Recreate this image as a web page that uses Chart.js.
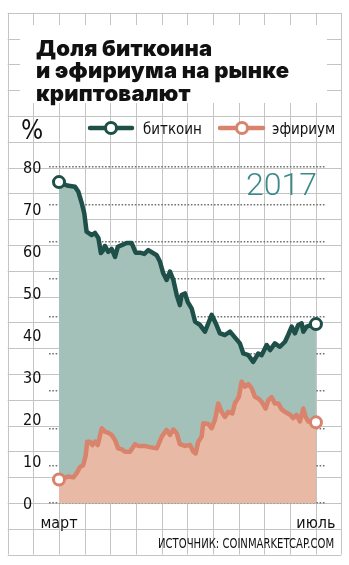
<!DOCTYPE html>
<html lang="ru">
<head>
<meta charset="utf-8">
<script src="https://cdn.jsdelivr.net/npm/chart.js@4.4.1/dist/chart.umd.min.js"></script>
<style>
  html, body { margin: 0; padding: 0; background: #fff; }
  #wrap { position: relative; width: 349px; height: 565px; overflow: hidden; }
  #wrap canvas { position: absolute; left: 0; top: 0; }
  .narrow { font-family: 'Liberation Sans Narrow', 'DejaVu Sans Condensed', sans-serif; }
  .title-box { position: absolute; left: 20px; top: 25px; width: 307px; height: 78px; background: #fff; }
  .title { position: absolute; left: 16px; top: 11.5px; margin: 0; white-space: nowrap; letter-spacing: 0.2px;
           font: 900 22px/22.5px Inter, 'DejaVu Sans', sans-serif; color: #111; }
  .unit { position: absolute; left: 21px; top: 117px; font-size: 26px; line-height: 26px; color: #111; }
  .legend { position: absolute; top: 120px; font-size: 15px; line-height: 18px; color: #111; }
  .year { position: absolute; left: 246px; top: 168px; font: 300 32px/32px Roboto, sans-serif; color: #3d8a8a; }
  .source { position: absolute; left: 158px; top: 536px; font-size: 14px; line-height: 14px; color: #111;
            white-space: nowrap; transform: scaleX(0.8); transform-origin: 0 0; }
</style>
</head>
<body>
<div id="wrap">
  <canvas id="chart" width="349" height="565"></canvas>
  <div class="title-box"><h1 class="title">Доля биткоина<br>и эфириума на рынке<br>криптовалют</h1></div>
  <div class="unit narrow">%</div>
  <div class="legend narrow" style="left:143px">биткоин</div>
  <div class="legend narrow" style="left:272px">эфириум</div>
  <div class="year">2017</div>
  <div class="source narrow">ИСТОЧНИК: COINMARKETCAP.COM</div>
</div>
<script>
// Market share, %, by day counted from 1 March 2017
const btcDays = [0, 3.8, 7.6, 9.2, 10.8, 12.0, 13.1, 15.5, 17.1, 18.7, 19.9, 21.0, 21.8, 23.4, 25.0, 26.6,
  27.9, 29.8, 32.1, 34.5, 36.4, 38.5, 40.5, 42.4, 46.4, 47.9, 49.5, 51.1, 52.7, 54.3, 55.9, 57.4,
  58.2, 59.8, 61.1, 63.0, 64.6, 66.9, 69.3, 70.9, 72.5, 74.4, 76.4, 78.8, 81.2, 83.2, 85.9, 87.5,
  89.9, 92.2, 94.6, 96.2, 98.6, 100.2, 102.5, 104.9, 107.3, 108.8, 110.5, 112.0, 113.6, 115.2,
  116.0, 117.6, 120.0, 122];
const btcShare = [76.4, 75.6, 75.3, 74.1, 71.4, 69, 64.6, 63.8, 64.3, 63.1, 59.5, 60.2, 61.2, 59.8, 60.5, 58.6,
  61, 61.4, 61.9, 61.9, 59.6, 59.6, 59.3, 60.2, 59, 57.5, 54.7, 53.1, 55.1, 53.1, 49.5, 47.1,
  49.5, 49.9, 47.9, 46.3, 43.2, 42.4, 40.8, 42.8, 44.8, 42.8, 40.4, 40, 40.8, 39.6, 38, 35.6,
  35.2, 33.6, 35.6, 35.2, 37.6, 36.4, 38, 37.2, 38.4, 40, 42, 40.4, 42.4, 42.8,
  40.8, 42, 42.4, 42.6];

const ethDays = [0, 4.4, 6.8, 8.4, 10.0, 11.5, 12.7, 13.4, 14.7, 15.8, 17.1, 18.4, 20.3, 21.8, 23.4,
  25.0, 26.6, 28.1, 29.8, 31.3, 33.7, 36.1, 37.6, 40.5, 43.2, 46.4, 48.8, 51.1, 52.7, 54.3,
  55.9, 57.4, 59.8, 62.2, 63.8, 64.9, 66.1, 67.7, 68.5, 70.9, 72.5, 74.1, 75.6, 77.2, 78.8,
  80.4, 82.3, 83.5, 85.4, 86.7, 88.3, 89.9, 91.5, 93.0, 94.6, 96.2, 98.1, 99.4, 101.0, 102.5,
  104.1, 105.7, 107.3, 109.7, 111.2, 112.8, 114.4, 116.0, 117.1, 118.4, 122];
const ethShare = [5.6, 6.3, 6.1, 7.1, 8.6, 9, 11.4, 14.6, 14.6, 13.8, 14.6, 13.8, 17.8, 17, 16.7,
  16.2, 15, 13, 12.8, 12.2, 12.2, 14, 13.6, 13.6, 13.3, 13, 15.8, 17.4, 16.2, 17.5,
  16.6, 14, 13.6, 13.8, 12.2, 11.8, 14.6, 15.8, 19, 18.8, 17.8, 19.9, 23.7, 21.7, 20.5,
  21.7, 21.3, 23.7, 25.3, 28.9, 27.7, 28.3, 27.3, 25.3, 24.9, 24.1, 22.5, 24.5, 25.2, 23.7,
  23.7, 22.3, 21.7, 21, 20.2, 21, 19.4, 22.5, 20.5, 19.4, 19.2];

const monthLabels = ['март', 'июль'];
const seriesNames = ['биткоин', 'эфириум'];

const BTC_LINE = '#1f4f49', BTC_FILL = '#a3c1b9';
const ETH_LINE = '#d9826c', ETH_FILL = '#e8b9a5';

const toPoints = (xs, ys) => xs.map((x, i) => ({ x, y: ys[i] }));
const endsOnly = (r) => (ctx) => (ctx.dataIndex === 0 || ctx.dataIndex === ctx.dataset.data.length - 1) ? r : 0;

// graph-paper background, aligned to the start day and the zero line
const paper = {
  id: 'paper',
  beforeDraw(chart) {
    const { ctx } = chart;
    const ox = chart.scales.x.getPixelForValue(0);
    const oy = chart.scales.y.getPixelForValue(0);
    const sx = 25.65, sy = 25.8;
    const left = ox - 2 * sx, right = ox + 11 * sx, top = oy - 19 * sy, bottom = oy + 2 * sy;
    ctx.save();
    ctx.strokeStyle = '#c4c4c4';
    ctx.lineWidth = 1;
    ctx.beginPath();
    for (let k = -2; k <= 11; k++) {
      const x = Math.round(ox + k * sx) + 0.5;
      ctx.moveTo(x, top); ctx.lineTo(x, bottom);
    }
    for (let j = -2; j <= 19; j++) {
      const y = Math.round(oy - j * sy) + 0.5;
      ctx.moveTo(left, y); ctx.lineTo(right, y);
    }
    ctx.stroke();
    ctx.restore();
  },
  afterDraw(chart) {
    // legend swatches: thick line with a hollow circle
    const { ctx } = chart;
    const items = [
      { x1: 90, x2: 132, cx: 111, line: BTC_LINE },
      { x1: 220, x2: 263, cx: 242, line: ETH_LINE }
    ];
    ctx.save();
    items.forEach(it => {
      ctx.strokeStyle = it.line;
      ctx.lineWidth = 4.5;
      ctx.lineCap = 'round';
      ctx.beginPath(); ctx.moveTo(it.x1, 128); ctx.lineTo(it.x2, 128); ctx.stroke();
      ctx.fillStyle = '#fff';
      ctx.lineWidth = 3;
      ctx.beginPath(); ctx.arc(it.cx, 128, 5.5, 0, Math.PI * 2); ctx.fill(); ctx.stroke();
    });
    ctx.restore();
  }
};

Chart.defaults.font.family = "'Liberation Sans Narrow', 'DejaVu Sans Condensed', sans-serif";
Chart.defaults.color = '#111';

new Chart(document.getElementById('chart'), {
  type: 'line',
  data: {
    datasets: [
      {
        label: seriesNames[0],
        data: toPoints(btcDays, btcShare),
        order: 1,
        borderColor: BTC_LINE, backgroundColor: BTC_FILL, fill: 'origin',
        borderWidth: 4.5, tension: 0, borderCapStyle: 'round', borderJoinStyle: 'round',
        pointRadius: endsOnly(5.5), pointBorderWidth: 3,
        pointBackgroundColor: '#fff', pointBorderColor: BTC_LINE
      },
      {
        label: seriesNames[1],
        data: toPoints(ethDays, ethShare),
        order: 0,
        borderColor: ETH_LINE, backgroundColor: ETH_FILL, fill: 'origin',
        borderWidth: 4.5, tension: 0, borderCapStyle: 'round', borderJoinStyle: 'round',
        pointRadius: endsOnly(5.5), pointBorderWidth: 3,
        pointBackgroundColor: '#fff', pointBorderColor: ETH_LINE
      }
    ]
  },
  options: {
    responsive: false,
    animation: false,
    clip: false,
    layout: { padding: { left: 23, right: 24, top: 167, bottom: 30 } },
    plugins: { legend: { display: false }, tooltip: { enabled: false } },
    scales: {
      x: {
        type: 'linear', min: -4.75, max: 126.3,
        grid: { display: false }, border: { display: false },
        afterBuildTicks: (s) => { s.ticks = [{ value: btcDays[0] }, { value: btcDays[btcDays.length - 1] }]; },
        afterFit: (s) => { s.height = 32; },
        ticks: {
          autoSkip: false, maxRotation: 0, padding: 3,
          font: { size: 16 },
          callback: (v, i) => monthLabels[i]
        }
      },
      y: {
        position: 'left', min: 0, max: 80,
        grid: { display: false }, border: { display: false },
        afterFit: (s) => { s.width = 26; },
        ticks: { stepSize: 10, crossAlign: 'far', padding: 0, labelOffset: 1.5, font: { size: 16 } }
      },
      dots: {
        position: 'right', min: 0, max: 80,
        border: { display: false, dash: [1.6, 1.7] },
        afterBuildTicks: (s) => { s.ticks = Array.from({ length: 10 }, (_, i) => ({ value: i * 80 / 9 })); },
        afterFit: (s) => { s.width = 0; },
        ticks: { display: false },
        grid: { drawTicks: false, color: '#737373', lineWidth: 1.6 }
      }
    }
  },
  plugins: [paper]
});
</script>
</body>
</html>
